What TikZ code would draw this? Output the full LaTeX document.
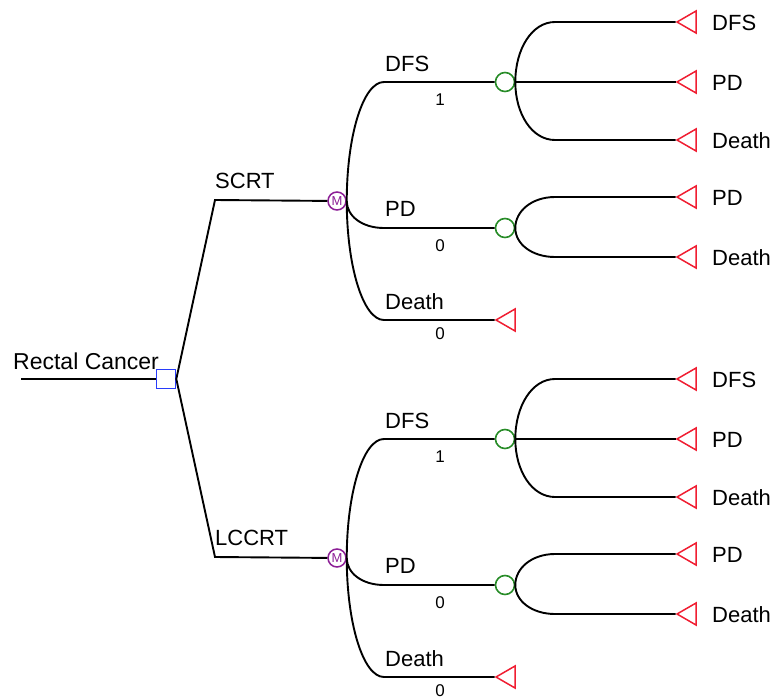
\documentclass[tikz,border=0pt]{standalone}
\usepackage{fontspec}
\setmainfont{Liberation Sans}
\usetikzlibrary{shapes.geometric}
\definecolor{decblue}{RGB}{40,60,250}
\definecolor{mpurple}{RGB}{140,30,150}
\definecolor{cgreen}{RGB}{40,140,40}
\definecolor{termred}{RGB}{240,30,50}
\tikzset{
  branch/.style={line width=1.9pt, black},
  decision/.style={draw=decblue, rectangle, minimum size=19pt, inner sep=0pt, line width=1.6pt},
  markov/.style={draw=mpurple, circle, minimum size=18pt, inner sep=0pt, line width=1.5pt,
     text=mpurple, font=\fontsize{13}{13}\selectfont},
  chance/.style={draw=cgreen, circle, minimum size=19pt, inner sep=0pt, line width=1.6pt},
  term/.style={draw=termred, regular polygon, regular polygon sides=3, shape border rotate=90,
     minimum size=25.4pt, inner sep=0pt, line width=1.5pt},
  lbl/.style={font=\fontsize{22}{26}\selectfont, inner sep=0pt, anchor=base west},
  prob/.style={font=\fontsize{17}{19}\selectfont, inner sep=0pt, anchor=base},
}
\newcommand\halftree[3]{%
  \begin{scope}[yshift=#2]
    \coordinate (#1s) at (215,200);
    \node[markov] (#1m) at (337,201) {M};
    \draw[branch] (dec.east) -- (#1s) -- (#1m);
    \node[lbl] (#1lab) at (215,188) {#3};
    % markov branches
    \coordinate (#1b1) at (384,82);
    \coordinate (#1b2) at (384,228);
    \coordinate (#1b3) at (384,320);
    \node[chance] (#1c1) at (505,82) {};
    \node[chance] (#1c2) at (505,228) {};
    \node[term] (#1t0) at (508.7,320) {};
    \draw[branch] (#1m.east) .. controls +(0,-65) and +(-21,0) .. (#1b1) -- (#1c1);
    \draw[branch] (#1m.east) .. controls +(0,15) and +(-22,0) .. (#1b2) -- (#1c2);
    \draw[branch] (#1m.east) .. controls +(0,65) and +(-21,0) .. (#1b3) -- (#1t0);
    \node[lbl] (#1l1) at (385,71) {DFS};
    \node[prob] (#1p1) at (440,105) {1};
    \node[lbl] (#1l2) at (385,216) {PD};
    \node[prob] (#1p2) at (440,251) {0};
    \node[lbl] (#1l3) at (385,309) {Death};
    \node[prob] (#1p3) at (440,339) {0};
    % chance node 1
    \coordinate (#1d1) at (555,22);
    \coordinate (#1d3) at (555,140);
    \node[term] (#1t1) at (689.7,22) {};
    \node[term] (#1t2) at (689.7,82) {};
    \node[term] (#1t3) at (689.7,140) {};
    \draw[branch] (#1c1.east) .. controls +(0,-33) and +(-23,0) .. (#1d1) -- (#1t1);
    \draw[branch] (#1c1.east) -- (#1t2);
    \draw[branch] (#1c1.east) .. controls +(0,32) and +(-23,0) .. (#1d3) -- (#1t3);
    % chance node 2
    \coordinate (#1e1) at (555,197);
    \coordinate (#1e2) at (555,257);
    \node[term] (#1t4) at (689.7,197) {};
    \node[term] (#1t5) at (689.7,257) {};
    \draw[branch] (#1c2.east) .. controls +(0,-17) and +(-23,0) .. (#1e1) -- (#1t4);
    \draw[branch] (#1c2.east) .. controls +(0,16) and +(-23,0) .. (#1e2) -- (#1t5);
    % terminal labels
    \node[lbl] (#1n1) at (712,30) {DFS};
    \node[lbl] (#1n2) at (712,90) {PD};
    \node[lbl] (#1n3) at (712,148) {Death};
    \node[lbl] (#1n4) at (712,205) {PD};
    \node[lbl] (#1n5) at (712,265) {Death};
  \end{scope}
}
\begin{document}
\begin{tikzpicture}[x=1pt, y=-1pt]
  \useasboundingbox (0,0) rectangle (774,699);
  \node[decision] (dec) at (166,379) {};
  \coordinate (root) at (21,379);
  \draw[branch] (root) -- (dec);
  \node[lbl, font=\fontsize{23}{27}\selectfont] (rootlab) at (13,369) {Rectal Cancer};
  \halftree{u}{0pt}{SCRT}
  \halftree{l}{-357pt}{LCCRT}
\end{tikzpicture}
\end{document}
